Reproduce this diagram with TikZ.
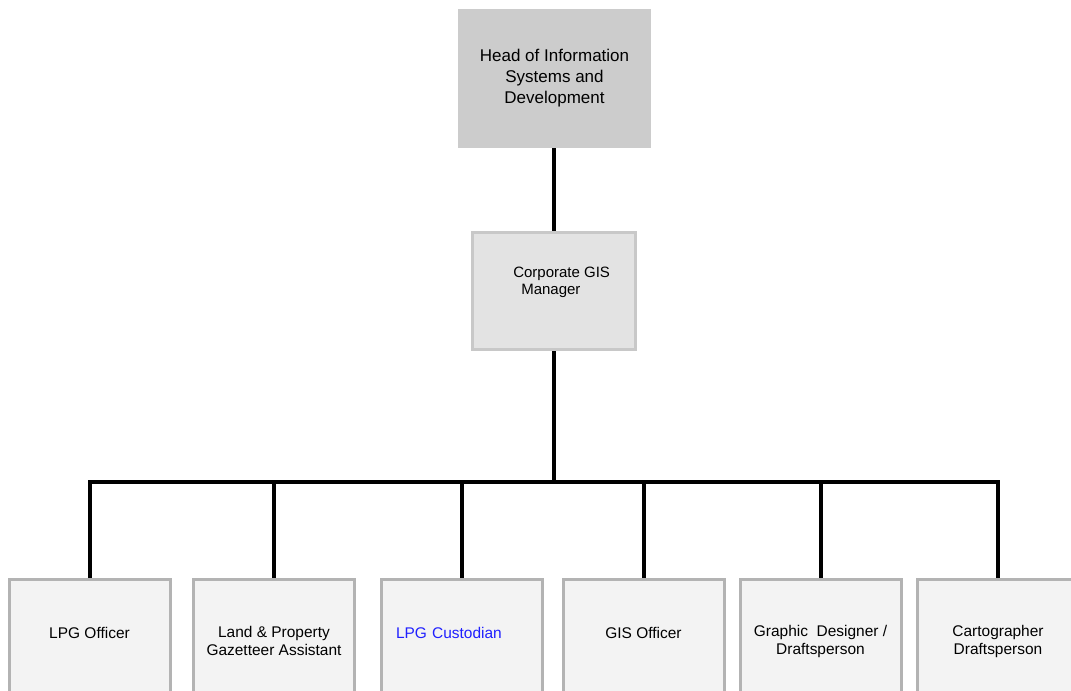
\documentclass[tikz,border=0pt]{standalone}
\usepackage{fontspec}
\setmainfont{Liberation Sans}
\usetikzlibrary{backgrounds}
\definecolor{headfill}{HTML}{CCCCCC}
\definecolor{mgrfill}{HTML}{E3E3E3}
\definecolor{mgrline}{HTML}{C8C8C8}
\definecolor{stafffill}{HTML}{F3F3F3}
\definecolor{staffline}{HTML}{B3B3B3}
\definecolor{linkblue}{HTML}{2020FF}
\begin{document}
\begin{tikzpicture}[x=0.75pt,y=-0.75pt,
    headbox/.style={fill=headfill,minimum width=144.75pt,minimum height=104.25pt,
      align=center,font=\fontsize{12.75}{15.75}\selectfont},
    mgrbox/.style={draw=mgrline,line width=2.25pt,fill=mgrfill,
      minimum width=122.25pt,minimum height=87.75pt},
    staffbox/.style={draw=staffline,line width=2.25pt,fill=stafffill,
      minimum width=120.75pt,minimum height=92.25pt,align=center,
      font=\fontsize{11.6}{13.5}\selectfont},
    oneline/.style={text depth=12pt},
    link/.style={line width=3pt}]
  \useasboundingbox (0,0) rectangle (1071,691);
  \clip (0,0) rectangle (1071,691);

  \node[headbox] (head) at (554.5,78.5) {Head of Information\\Systems and\\Development};
  \node[mgrbox] (manager) at (554,291.5) {};
  \node[anchor=north west,align=left,inner sep=0pt,
    font=\fontsize{11.25}{12.4}\selectfont] (managertext) at (513,267)
    {Corporate GIS\\\hspace*{6pt}Manager};

  % staff row
  \node[staffbox,oneline] (lpgofficer) at (89.5,641) {LPG Officer};
  \node[staffbox] (landprop) at (274,641) {Land \& Property\\Gazetteer Assistant};
  \node[staffbox,oneline,text=linkblue,text width=99pt,align=left] (custodian) at (462,641) {LPG Custodian};
  \node[staffbox,oneline] (gisofficer) at (643.5,641) {GIS Officer};
  \node[staffbox] (designer) at (820.5,641) {Graphic\ \ Designer /\\Draftsperson};
  \node[staffbox] (cartographer) at (998,641) {Cartographer\\Draftsperson};

  \coordinate (bus) at (554,482);
  \begin{scope}[on background layer]
    \draw[link] (head.south -| manager) -- (manager);
    \draw[link] (manager) -- (bus);
    \draw[link] (lpgofficer) |- (bus) -| (cartographer);
    \foreach \n in {landprop,custodian,gisofficer,designer}
      \draw[link] (\n) -- (\n |- bus);
  \end{scope}
\end{tikzpicture}
\end{document}
